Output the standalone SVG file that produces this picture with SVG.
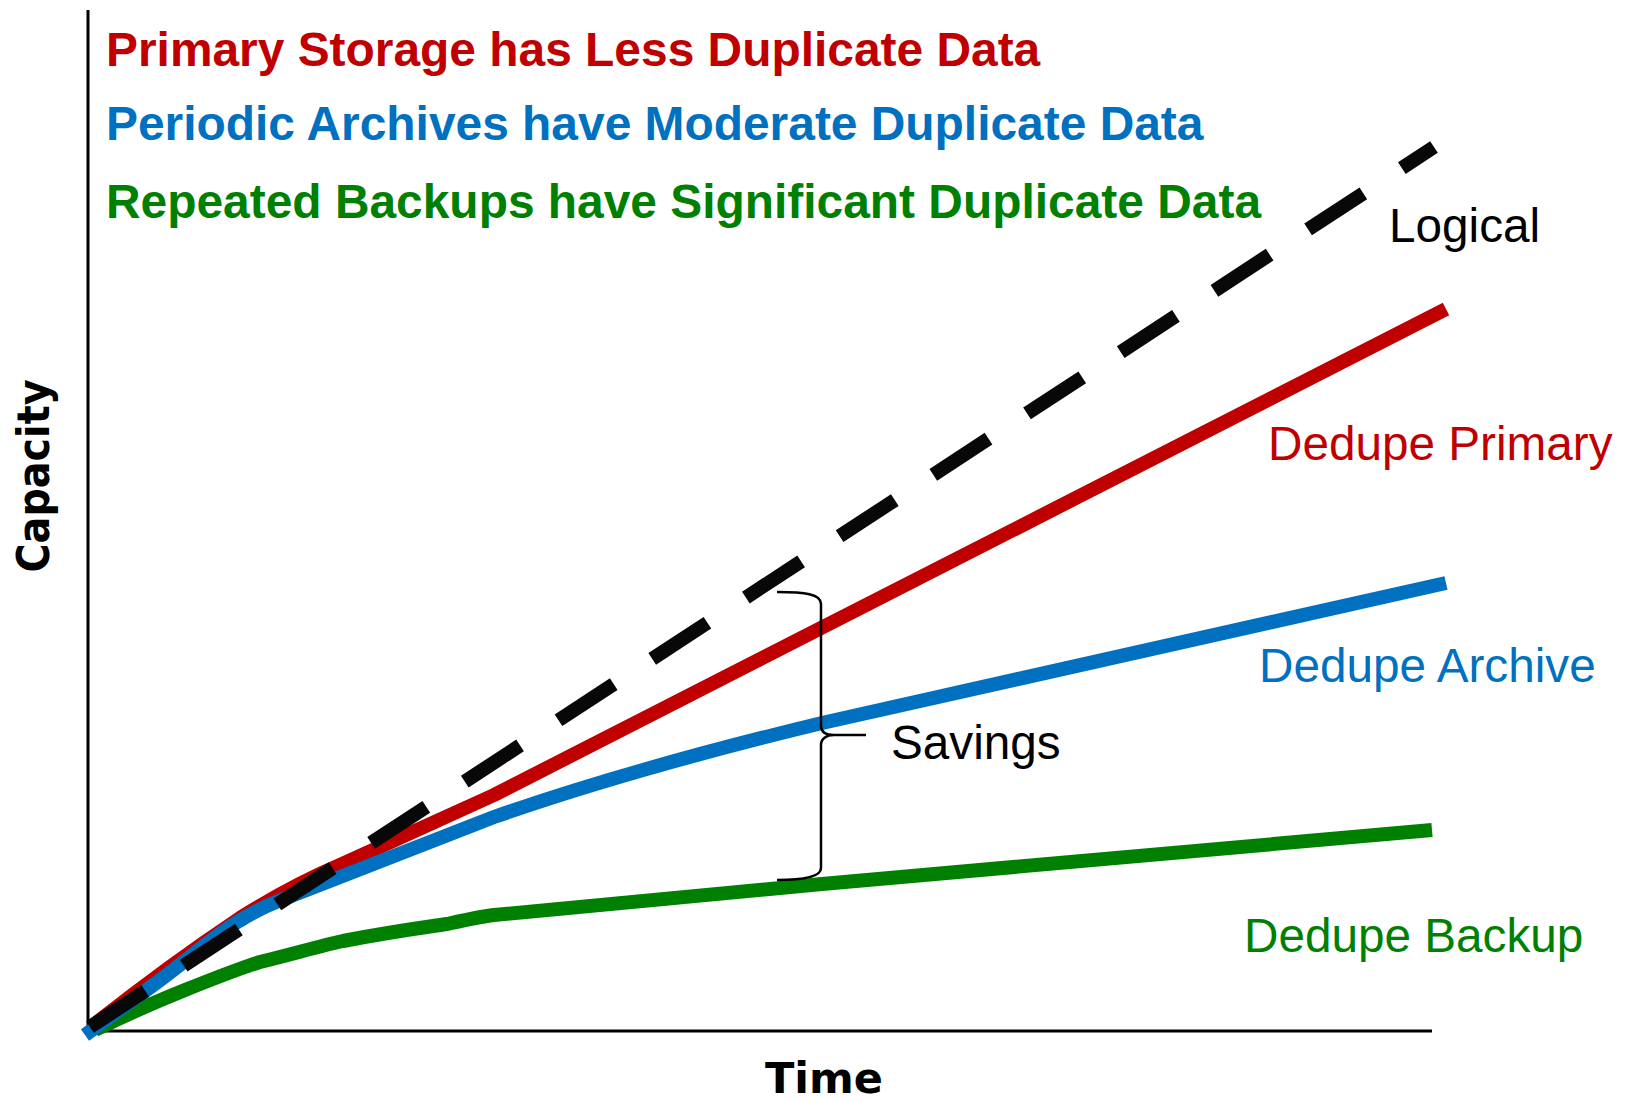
<svg xmlns="http://www.w3.org/2000/svg" width="1631" height="1101" viewBox="0 0 1631 1101">
  <style>
    .hdr { font-family: "Liberation Sans", Arial, sans-serif; font-weight: bold; font-size: 47.9px; }
    .lbl { font-family: "Liberation Sans", Arial, sans-serif; font-size: 47.7px; }
    .axt { font-family: "DejaVu Sans", Verdana, sans-serif; font-weight: bold; fill: #000; }
    .series { fill: none; stroke-width: 14; stroke-linejoin: round; }
    .red { fill: #C00000; }
    .blue { fill: #0070C0; }
    .green { fill: #008000; }
  </style>
  <rect x="0" y="0" width="1631" height="1101" fill="#ffffff"/>

  <g id="axes" stroke="#000" stroke-width="3" fill="none">
    <line x1="88" y1="10" x2="88" y2="1031"/>
    <line x1="87" y1="1031" x2="1432" y2="1031"/>
  </g>

  <g id="axis-labels">
    <text class="axt" font-size="44" text-anchor="middle" textLength="193" lengthAdjust="spacingAndGlyphs" transform="translate(49,476) rotate(-90)">Capacity</text>
    <text class="axt" font-size="43" x="824" y="1093" text-anchor="middle" textLength="118" lengthAdjust="spacingAndGlyphs">Time</text>
  </g>

  <g id="headers">
    <text class="hdr red" x="106" y="66">Primary Storage has Less Duplicate Data</text>
    <text class="hdr blue" x="106" y="140">Periodic Archives have Moderate Duplicate Data</text>
    <text class="hdr green" x="106" y="218">Repeated Backups have Significant Duplicate Data</text>
  </g>

  <g id="connectors">
    <path id="dedupe-primary-line" class="series" stroke="#C00000" d="M 91 1027 C 120 1004, 180 958, 240 918 C 275 896, 305 880, 340 865 L 494 795 L 1446 309"/>
    <path id="dedupe-backup-line" class="series" stroke="#008000" d="M 95 1030 C 130 1013, 160 1000, 185 990 C 215 978, 240 968, 260 962 C 300 952, 320 946, 343 941 C 390 932, 420 928, 447 924 C 465 920, 478 917, 494 915 L 822 884 L 1432 830"/>
    <path id="dedupe-archive-line" class="series" stroke="#0070C0" d="M 85 1035 L 92 1030 L 156 983 C 190 958, 215 935, 239 921 C 255 911, 268 905, 281 900 L 494 817 C 600 780, 710 750, 822 723 L 1446 583"/>
    <path id="logical-line" fill="none" stroke="#080808" stroke-width="14" stroke-dasharray="66 46" d="M 90 1027 L 1434 147"/>
    <path id="savings-brace" fill="none" stroke="#000" stroke-width="2.5" d="M 777 592 C 805 592, 821 594, 821 604 L 821 726 C 821 732, 826 735, 834 735 L 866 735 M 834 735 C 826 735, 821 739, 821 745 L 821 868 C 821 876, 805 880, 777 880"/>
  </g>

  <g id="node-logical"><text class="lbl" x="1389" y="242" fill="#000">Logical</text></g>
  <g id="node-dedupe-primary"><text class="lbl red" x="1268" y="460">Dedupe Primary</text></g>
  <g id="node-dedupe-archive"><text class="lbl blue" x="1259" y="682">Dedupe Archive</text></g>
  <g id="node-dedupe-backup"><text class="lbl green" x="1244" y="952">Dedupe Backup</text></g>
  <g id="node-savings"><text class="lbl" x="891" y="759" fill="#000">Savings</text></g>
</svg>
